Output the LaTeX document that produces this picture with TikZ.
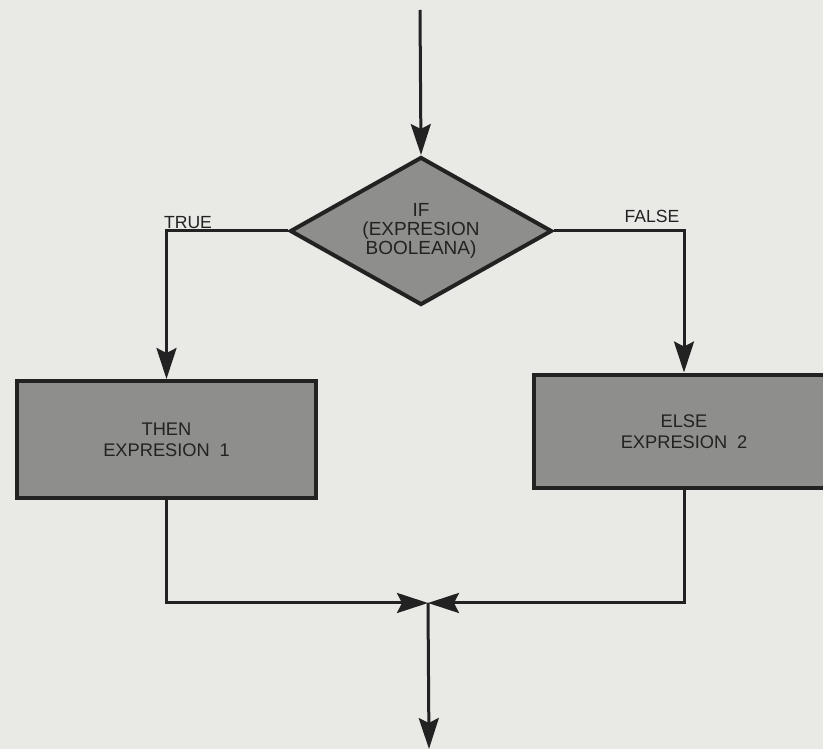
\documentclass[tikz,border=0pt]{standalone}
\usepackage{fontspec}
\setmainfont{Liberation Sans}
\usetikzlibrary{shapes.geometric,arrows.meta}
\definecolor{paper}{HTML}{E9E9E6}
\definecolor{boxfill}{HTML}{8E8E8C}
\definecolor{ink}{HTML}{222222}
\tikzset{
  conn/.style={draw=ink, line width=0.06cm, -{Stealth[length=0.62cm,width=0.4cm,inset=0.1cm]}},
  procbox/.style={rectangle, draw=ink, fill=boxfill, line width=0.08cm, inner sep=0pt,
    text=ink, align=center, font=\fontsize{10.4}{12}\selectfont},
  decision/.style={diamond, aspect=1.77, draw=ink, fill=boxfill, line width=0.08cm, inner sep=0pt,
    minimum width=5.24cm, minimum height=2.96cm, text=ink, align=center,
    font=\fontsize{10.8}{11}\selectfont},
  lbl/.style={text=ink, font=\fontsize{10}{12}\selectfont, inner sep=0pt}
}
\begin{document}
\begin{tikzpicture}[x=0.02cm, y=-0.02cm]
\useasboundingbox (0,0) rectangle (823,749);
\clip (0,0) rectangle (823,749);
\fill[paper] (0,0) rectangle (823,749);

\node[decision] (if) at (421,231) {IF\\(EXPRESION\\BOOLEANA)};
\node[procbox, minimum width=5.98cm, minimum height=2.34cm] (then) at (166.5,439.5) {THEN\\EXPRESION\hspace{0.25em} 1};
\node[procbox, minimum width=6cm, minimum height=2.28cm] (else) at (684,431.5) {ELSE\\EXPRESION\hspace{0.25em} 2};

\node[lbl] (true) at (188,223) {TRUE};
\node[lbl] (false) at (652,216) {FALSE};

\coordinate (in) at (420,10);
\coordinate (J) at (428,603);
\coordinate (out) at (429,749);

\draw[conn] (in) -- (if.north);
\draw[conn] (if.west) -| (then.north);
\draw[conn] (if.east) -| (else.north);
\draw[conn] (then.south) |- (J);
\draw[conn] (else.south) |- (J);
\draw[conn] (J) -- (out);
\end{tikzpicture}
\end{document}
